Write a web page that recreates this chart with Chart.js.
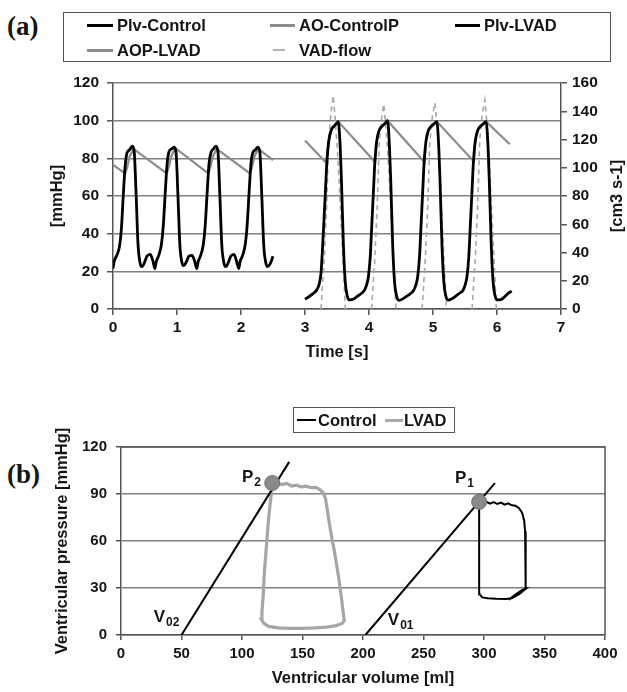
<!DOCTYPE html>
<html><head><meta charset="utf-8">
<script src="https://cdn.jsdelivr.net/npm/chart.js@4.4.1/dist/chart.umd.min.js"></script>
<style>
html,body{margin:0;padding:0;background:#fff;}
body{width:627px;height:692px;position:relative;overflow:hidden;font-family:"Liberation Sans",Arial,sans-serif;font-weight:bold;color:#151515;}
.panel{position:absolute;left:7px;font-family:"Liberation Serif","Times New Roman",serif;font-weight:bold;font-size:27px;line-height:1;}
canvas{position:absolute;left:0;}
.legend{position:absolute;border:1.5px solid #555;box-sizing:border-box;}
.item{position:absolute;font-size:16.5px;line-height:18px;white-space:nowrap;}
.sw{position:absolute;height:0;}
</style></head>
<body>
<div class="panel" style="top:13px">(a)</div>
<div class="panel" style="top:461px">(b)</div>
<canvas id="cA" width="627" height="372" style="top:0;width:627px;height:372px"></canvas>
<canvas id="cB" width="627" height="312" style="top:380px;width:627px;height:312px"></canvas>

<div class="legend" style="left:63px;top:12px;width:548px;height:50px">
  <div class="sw" style="left:23px;top:11px;width:26px;border-top:3px solid #000"></div>
  <div class="item" style="left:53px;top:3px">Plv-Control</div>
  <div class="sw" style="left:206px;top:11px;width:25px;border-top:3px solid #8c8c8c"></div>
  <div class="item" style="left:235px;top:3px">AO-ControlP</div>
  <div class="sw" style="left:391px;top:11px;width:25px;border-top:3px solid #000"></div>
  <div class="item" style="left:420px;top:3px">Plv-LVAD</div>
  <div class="sw" style="left:23px;top:36px;width:26px;border-top:3px solid #8c8c8c"></div>
  <div class="item" style="left:53px;top:28px">AOP-LVAD</div>
  <div class="sw" style="left:209px;top:36px;width:12px;border-top:2px solid #b0b0b0"></div>
  <div class="item" style="left:235px;top:28px">VAD-flow</div>
</div>

<div class="legend" style="left:293px;top:407px;width:162px;height:26px">
  <div class="sw" style="left:3px;top:11px;width:19px;border-top:2.5px solid #000"></div>
  <div class="item" style="left:24px;top:3px">Control</div>
  <div class="sw" style="left:91px;top:11px;width:18px;border-top:3px solid #a8a8a8"></div>
  <div class="item" style="left:110px;top:3px">LVAD</div>
</div>

<script>
// ---------- (a) time series ----------
const timeTicks = [0,1,2,3,4,5,6,7];
const pressureTicksA = [0,20,40,60,80,100,120];
const flowTicks = [0,20,40,60,80,100,120,140,160];

const plvControlT = [0,0.02,0.06,0.10,0.13,0.16,0.19,0.22,0.26,0.30,0.33,0.36,0.39,0.42,0.45,0.49,0.53,0.58,0.62,
  0.655,0.675,0.715,0.755,0.785,0.815,0.845,0.875,0.915,0.955,0.985,1.015,1.045,1.075,1.105,1.145,1.185,1.235,1.275,
  1.31,1.33,1.37,1.41,1.44,1.47,1.50,1.53,1.57,1.61,1.64,1.67,1.70,1.73,1.76,1.80,1.84,1.89,1.93,
  1.965,1.985,2.025,2.065,2.095,2.125,2.155,2.185,2.225,2.265,2.295,2.325,2.355,2.385,2.415,2.455,2.50];
const plvControlP = [21.5,25.5,28.5,33,42,60,76,83,84.5,86.5,84,62,35,25,22.5,24.5,28,29,26,
  21.5,25,28.5,34,44,61,77,83.5,85,86,83,60,34,25,23,25,28,28.5,25.5,
  21.5,25,28.5,34,44,61,77,83,85,86.5,83.5,60,34,25,22.5,24.5,28,29,25.5,
  21.5,25,28.5,34,44,61,77,83,84.5,86,83,60,34,25,22.5,24,28];

const aoControlT = [0,0.19,0.22,0.26,0.32,0.84,0.87,0.91,0.97,1.49,1.52,1.56,1.62,2.14,2.17,2.21,2.27,2.5];
const aoControlP = [76.5,72,75,81,85,72,75,81,85.5,72,75,81,85,72,75,81,85,79];

const plvLvadT = [3.00,3.06,3.12,3.18,3.22,3.25,3.27,3.29,3.32,3.34,3.37,3.41,3.45,3.49,3.52,3.55,3.57,3.60,3.63,3.66,3.70,3.76,3.82,3.88,3.93,
  3.96,3.99,4.02,4.04,4.07,4.09,4.12,4.16,4.20,4.25,4.29,4.32,4.34,4.37,4.40,4.43,4.47,4.53,4.59,4.65,4.70,
  4.73,4.76,4.79,4.81,4.84,4.86,4.89,4.93,4.97,5.02,5.06,5.09,5.11,5.14,5.17,5.20,5.24,5.30,5.36,5.42,5.47,
  5.50,5.53,5.56,5.58,5.61,5.63,5.66,5.70,5.74,5.79,5.83,5.86,5.88,5.91,5.94,5.97,6.01,6.06,6.12,6.18,6.23];
const plvLvadP = [5.2,6.5,8,10,13,19,30,43,63,77,89,95,97,98.5,99.5,86,68,34,14,7,4.8,5.3,6.8,8.2,10,
  12.5,17,28,42,63,77,89,95,97,98.5,100,86,68,34,14,7,4.6,5.4,6.8,8.2,10,
  12.5,17,28,42,63,77,89,95,97,98.5,99.5,86,68,34,14,7,4.7,5.5,7,8.5,10,
  12.5,17,28,42,63,77,89,95,97,98.5,99.5,86,68,34,14,7,4.8,5,6.5,8.5,9.5];

const aopLvadT = [3.0,3.335,3.37,3.41,3.52,4.095,4.12,4.16,4.29,4.865,4.89,4.93,5.06,5.635,5.66,5.70,5.83,6.2];
const aopLvadP = [89.5,77.5,89,95,99.5,78,89,95,100,78,89,95,99.5,78.5,89,95,99.5,87.5];

const vadFlowT = [3.25,3.30,3.34,3.37,3.41,3.44,3.47,3.51,3.55,3.59,3.63,3.8,
  4.04,4.09,4.13,4.16,4.20,4.23,4.26,4.30,4.34,4.38,4.42,4.6,
  4.83,4.88,4.92,4.95,4.99,5.03,5.06,5.10,5.13,5.17,5.21,5.4,
  5.61,5.66,5.70,5.73,5.77,5.81,5.84,5.88,5.91,5.95,5.99];
const vadFlowQ = [0,35,75,120,140,151,136,110,75,38,0,null,
  0,35,75,118,136,145,131,106,74,37,0,null,
  0,35,75,118,136,146,132,106,74,37,0,null,
  0,35,75,120,138,148,133,108,75,38,0];

// ---------- (b) pressure-volume loops ----------
const volumeTicks = [0,50,100,150,200,250,300,350,400];
const pressureTicksB = [0,30,60,90,120];

const controlLoopV = [296,299,302,305,308,311,314,317,320,323,326,329,331.5,333.2,334,334.3,334.5,334.5,333,329,324,320.5,322,327,332,334.5,329,323,318,310,303,298.5,296.5,296,296,296,296];
const controlLoopP = [85,84.2,85,83.8,84.8,83.6,84.5,83.2,84,82.8,82.5,81,78,73,66,55,42,30,29,27,24.5,22.5,23.5,26.5,29,29.5,26,23.5,23,23.2,23.5,24,26,30,50,70,85];

const lvadLoopV = [125,129,133,137,141,145,149,153,157,161,164,167,169,170.5,172,174,176,178,180,182,183.5,184.5,183,178,170,160,150,140,130,122,118,116,116.5,117.5,118.5,120,121.5,123,124.5,125];
const lvadLoopP = [97,97.5,96,96.8,95,95.6,94.5,95,94,94.2,93,91,87,80,72,63,55,46,36,25,15,9,7.5,6,5,4.5,4.2,4.2,4.6,5.5,7.5,10,15,25,40,55,70,82,92,97];

const v01LineV = [202,309];
const v01LineP = [0,97];
const v02LineV = [50,139];
const v02LineP = [0,110.5];

const endSystolicV = [296,125];
const endSystolicP = [85,97];

const pvLabelMain = ['P','P','V','V'];
const pvLabelSub = ['2','1','02','01'];
const pvLabelV = [100,276,27,220.5];
const pvLabelP = [97.5,97,8.3,6.4];

// ---------- helpers ----------
const xy = (xs, ys) => xs.map((x, i) => ({x, y: ys[i]}));
const FAM = "'Liberation Sans', Arial, sans-serif";
const tickFontA = {family: FAM, weight: 'bold', size: 15.5};
const tickFontB = {family: FAM, weight: 'bold', size: 15};
const titleFont = {family: FAM, weight: 'bold', size: 16.5};
const TXT = '#151515';
const AX = '#555';
const GRID = '#808080';
const setTicks = arr => s => { s.ticks = arr.map(v => ({value: v})); };

const rightTitle = {
  id: 'rightTitle',
  afterDraw(chart) {
    const ctx = chart.ctx, a = chart.chartArea;
    ctx.save();
    ctx.translate(a.right + 56, (a.top + a.bottom) / 2);
    ctx.rotate(-Math.PI / 2);
    ctx.font = "bold 16.5px " + FAM;
    ctx.fillStyle = TXT;
    ctx.textAlign = 'center';
    ctx.textBaseline = 'middle';
    ctx.fillText('[cm3 s-1]', 0, 0);
    ctx.restore();
  }
};

const straight = {cubicInterpolationMode: 'default', tension: 0};

new Chart(document.getElementById('cA'), {
  type: 'line',
  data: {datasets: [
    {label: 'Plv-Control', data: xy(plvControlT, plvControlP), borderColor: '#000', borderWidth: 2.8, yAxisID: 'y', order: 1},
    {label: 'AO-ControlP', data: xy(aoControlT, aoControlP), borderColor: '#8c8c8c', borderWidth: 2.2, yAxisID: 'y', order: 3, ...straight},
    {label: 'Plv-LVAD', data: xy(plvLvadT, plvLvadP), borderColor: '#000', borderWidth: 2.8, yAxisID: 'y', order: 1},
    {label: 'AOP-LVAD', data: xy(aopLvadT, aopLvadP), borderColor: '#8c8c8c', borderWidth: 2.2, yAxisID: 'y', order: 3, ...straight},
    {label: 'VAD-flow', data: xy(vadFlowT, vadFlowQ), borderColor: '#a8a8a8', borderWidth: 1.6, borderDash: [5, 4], yAxisID: 'y2', order: 2, ...straight}
  ]},
  options: {
    responsive: false, animation: false, devicePixelRatio: 1,
    layout: {padding: {top: 83, left: 0, right: 0, bottom: 0}},
    elements: {point: {radius: 0}, line: {cubicInterpolationMode: 'monotone', fill: false}},
    plugins: {legend: {display: false}, tooltip: {enabled: false}},
    scales: {
      x: {type: 'linear', min: 0, max: 7, afterBuildTicks: setTicks(timeTicks), afterFit: s => { s.height = 63; },
        grid: {drawOnChartArea: false, tickLength: 6, tickColor: AX, lineWidth: 1.5},
        border: {color: AX, width: 1.5},
        ticks: {font: tickFontA, color: TXT, padding: 3, maxRotation: 0},
        title: {display: true, text: 'Time [s]', font: titleFont, color: TXT, padding: {top: 0, bottom: 10}}},
      y: {position: 'left', min: 0, max: 120, afterBuildTicks: setTicks(pressureTicksA), afterFit: s => { s.width = 113; },
        grid: {color: GRID, lineWidth: 1.5, tickLength: 6, tickColor: AX},
        border: {color: AX, width: 1.5},
        ticks: {font: tickFontA, color: TXT, padding: 8},
        title: {display: true, text: '[mmHg]', font: titleFont, color: TXT, padding: {top: 48, bottom: 0}}},
      y2: {position: 'right', min: 0, max: 160, afterBuildTicks: setTicks(flowTicks), afterFit: s => { s.width = 66; },
        grid: {drawOnChartArea: false, tickLength: 6, tickColor: AX, lineWidth: 1.5},
        border: {color: AX, width: 1.5},
        ticks: {font: tickFontA, color: TXT, padding: 5}}
    }
  },
  plugins: [rightTitle]
});

const frame = {
  id: 'frame',
  beforeDatasetsDraw(chart) {
    const ctx = chart.ctx, a = chart.chartArea;
    ctx.save();
    ctx.strokeStyle = AX; ctx.lineWidth = 1.5;
    ctx.beginPath();
    ctx.moveTo(a.left, a.top); ctx.lineTo(a.right, a.top); ctx.lineTo(a.right, a.bottom);
    ctx.stroke();
    ctx.restore();
  }
};
const pvLabels = {
  id: 'pvLabels',
  afterDatasetsDraw(chart) {
    const ctx = chart.ctx, sx = chart.scales.x, sy = chart.scales.y;
    ctx.save();
    ctx.fillStyle = TXT;
    ctx.textBaseline = 'alphabetic';
    ctx.textAlign = 'left';
    pvLabelMain.forEach((m, i) => {
      const x = sx.getPixelForValue(pvLabelV[i]), y = sy.getPixelForValue(pvLabelP[i]);
      ctx.font = "bold 17px " + FAM;
      ctx.fillText(m, x, y);
      const w = ctx.measureText(m).width;
      ctx.font = "bold 12px " + FAM;
      ctx.fillText(pvLabelSub[i], x + w + 1, y + 4);
    });
    ctx.restore();
  }
};

new Chart(document.getElementById('cB'), {
  type: 'scatter',
  data: {datasets: [
    {label: 'End-systole', data: xy(endSystolicV, endSystolicP), showLine: false, pointRadius: 7.5, pointBackgroundColor: '#8a8a8a', pointBorderColor: '#6e6e6e', pointBorderWidth: 1, order: 0},
    {label: 'Control', data: xy(controlLoopV, controlLoopP), showLine: true, borderColor: '#000', borderWidth: 2, pointRadius: 0, tension: 0, order: 2},
    {label: 'LVAD', data: xy(lvadLoopV, lvadLoopP), showLine: true, borderColor: '#a6a6a6', borderWidth: 3.2, pointRadius: 0, tension: 0, order: 3},
    {label: 'V01', data: xy(v01LineV, v01LineP), showLine: true, borderColor: '#000', borderWidth: 2, pointRadius: 0, order: 1},
    {label: 'V02', data: xy(v02LineV, v02LineP), showLine: true, borderColor: '#000', borderWidth: 2, pointRadius: 0, order: 1}
  ]},
  options: {
    responsive: false, animation: false, devicePixelRatio: 1,
    layout: {padding: {top: 67, left: 0, right: 22, bottom: 0}},
    plugins: {legend: {display: false}, tooltip: {enabled: false}},
    scales: {
      x: {type: 'linear', min: 0, max: 400, afterBuildTicks: setTicks(volumeTicks), afterFit: s => { s.height = 57; },
        grid: {drawOnChartArea: false, tickLength: 5, tickColor: AX, lineWidth: 1.5},
        border: {color: AX, width: 1.5},
        ticks: {font: tickFontB, color: TXT, padding: 5, maxRotation: 0},
        title: {display: true, text: 'Ventricular volume [ml]', font: titleFont, color: TXT, padding: {top: 0, bottom: 4}}},
      y: {type: 'linear', min: 0, max: 120, afterBuildTicks: setTicks(pressureTicksB), afterFit: s => { s.width = 121; },
        grid: {color: GRID, lineWidth: 1.5, tickLength: 5, tickColor: AX},
        border: {color: AX, width: 1.5},
        ticks: {font: tickFontB, color: TXT, padding: 9},
        title: {display: true, text: 'Ventricular pressure [mmHg]', font: titleFont, color: TXT, padding: {top: 53, bottom: 0}}}
    }
  },
  plugins: [frame, pvLabels]
});
</script>
</body></html>
